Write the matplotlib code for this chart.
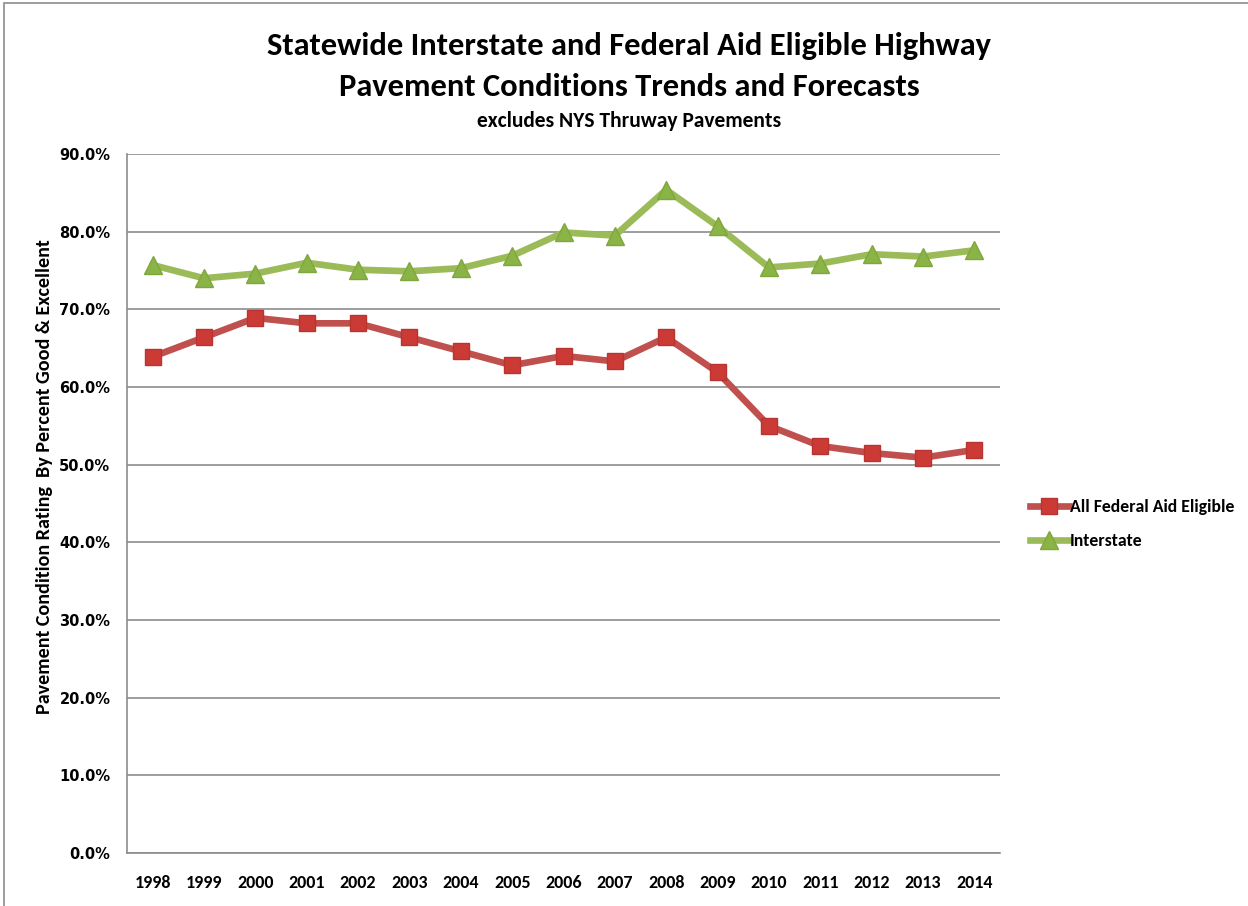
import matplotlib.pyplot as plt
from matplotlib.patches import Rectangle
from matplotlib.ticker import FuncFormatter

years = [1998, 1999, 2000, 2001, 2002, 2003, 2004, 2005, 2006,
         2007, 2008, 2009, 2010, 2011, 2012, 2013, 2014]
federal_aid = [63.9, 66.4, 68.9, 68.2, 68.2, 66.4, 64.6, 62.8, 64.0,
               63.3, 66.4, 61.9, 55.0, 52.4, 51.5, 50.9, 51.9]
interstate = [75.7, 74.0, 74.6, 76.0, 75.1, 74.9, 75.3, 76.9, 79.9,
              79.5, 85.4, 80.7, 75.4, 75.9, 77.1, 76.8, 77.6]
y_ticks = [0, 10, 20, 30, 40, 50, 60, 70, 80, 90]

NARROW = ['Carlito', 'Asap Condensed', 'DejaVu Sans']

fig = plt.figure(figsize=(12.48, 9.06), dpi=100)
ax = fig.add_axes([0.1018, 0.0585, 0.6995, 0.7715])

# outer chart border (top/left visible in the reference)
fig.patches.append(Rectangle((0.003, -0.01), 1.02, 1.007, transform=fig.transFigure,
                             fill=False, edgecolor='#8c8c8c', linewidth=1.2))

x = list(range(len(years)))
ax.plot(x, federal_aid, color='#c0504d', linewidth=4.8, marker='s', markersize=12,
        markerfacecolor='#cc3a36', markeredgecolor='#b83430', label='All Federal Aid Eligible',
        zorder=3)
ax.plot(x, interstate, color='#9bbb59', linewidth=4.8, marker='^', markersize=13,
        markerfacecolor='#8ab446', markeredgecolor='#7fa73d', label='Interstate', zorder=3)

ax.set_ylim(0, 90)
ax.set_xlim(-0.5, len(years) - 0.5)
ax.set_yticks(y_ticks)
ax.yaxis.set_major_formatter(FuncFormatter(lambda v, p: '%.1f%%' % v))
ax.set_xticks(x)
ax.set_xticklabels([str(y) for y in years], family=NARROW, fontweight='bold', fontsize=13)
for lbl in ax.get_yticklabels():
    lbl.set_fontweight('bold')
    lbl.set_fontsize(10.5)
ax.tick_params(axis='y', length=0, pad=12)
ax.tick_params(axis='x', length=0, pad=16)
ax.grid(axis='y', color='#8c8c8c', linewidth=1.2)
ax.set_axisbelow(True)
for side in ['top', 'right']:
    ax.spines[side].set_visible(False)
for side in ['left', 'bottom']:
    ax.spines[side].set_color('#8c8c8c')
    ax.spines[side].set_linewidth(1.2)

ax.set_ylabel('Pavement Condition Rating  By Percent Good & Excellent', family=NARROW,
              fontweight='bold', fontsize=14.5)
ax.yaxis.label.set_va('center')
ax.yaxis.set_label_coords(-0.094, 0.539)

fig.text(0.504, 0.949, 'Statewide Interstate and Federal Aid Eligible Highway', family=NARROW,
         fontweight='bold', fontsize=23.4, ha='center', va='center')
fig.text(0.504, 0.904, 'Pavement Conditions Trends and Forecasts', family=NARROW,
         fontweight='bold', fontsize=23.4, ha='center', va='center')
fig.text(0.504, 0.866, 'excludes NYS Thruway Pavements', family=NARROW,
         fontweight='bold', fontsize=15.5, ha='center', va='center')

fig.legend(loc='upper left', bbox_to_anchor=(0.825, 0.4495), frameon=False,
           borderaxespad=0, borderpad=0,
           prop={'family': NARROW, 'weight': 'bold', 'size': 12.8},
           handlelength=2.2, handletextpad=0.05, labelspacing=1.05)

fig.savefig('out.png', dpi=100)
